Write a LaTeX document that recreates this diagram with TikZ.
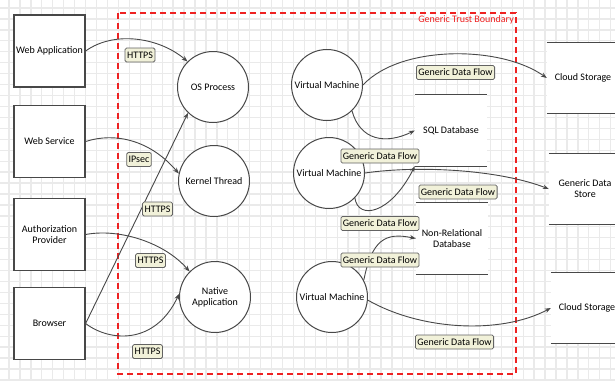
\documentclass[tikz,border=0pt]{standalone}
\usepackage{fontspec}
\setmainfont{Carlito}
\usetikzlibrary{arrows.meta}
\definecolor{gridc}{HTML}{EAEAEA}
\definecolor{lnc}{HTML}{484848}
\definecolor{lblfill}{HTML}{F1F1D9}
\definecolor{tbred}{HTML}{EE2222}
\begin{document}
\begin{tikzpicture}[x=1pt,y=-1pt,
  font=\fontsize{10}{11}\selectfont,
  extbox/.style={draw=lnc, line width=1.2pt, fill=white, minimum width=71pt, minimum height=72pt, inner sep=0pt, align=center},
  proc/.style={circle, draw=lnc, line width=1pt, fill=white, minimum size=71pt, inner sep=0pt, align=center},
  store/.style={fill=white, minimum width=72pt, minimum height=71pt, inner sep=0pt, align=center},
  storeline/.style={draw=lnc, line width=1.2pt},
  flow/.style={draw=lnc, line width=0.9pt, -{Stealth[length=6pt,width=4.5pt]}},
  lbl/.style={draw=lnc!85, fill=lblfill, line width=0.8pt, rounded corners=1.5pt, inner xsep=2pt, inner ysep=1pt, minimum height=14pt}
]
\clip (0,0) rectangle (615,381);
\fill[white] (0,0) rectangle (615,381);
% grid
\foreach \i in {0,...,56} {
  \draw[gridc, line width=1.3pt] ({9+\i*10.94},0) -- ({9+\i*10.94},381);
}
\foreach \j in {0,...,35} {
  \draw[gridc, line width=1.3pt] (0,{8+\j*10.94}) -- (615,{8+\j*10.94});
}

% trust boundary
\draw[tbred, line width=1.3pt, dash pattern=on 6pt off 4pt] (118,13) rectangle (516,374);
\node[text=tbred, anchor=east, inner sep=0pt] (tblabel) at (514,20) {Generic Trust Boundary};

% external interactors
\node[extbox] (webapp) at (49.5,51) {Web Application};
\node[extbox] (websvc) at (49.5,141.5) {Web Service};
\node[extbox] (auth) at (49.5,234.5) {Authorization\\Provider};
\node[extbox] (browser) at (49.5,323.5) {Browser};

% processes
\node[proc] (osp) at (213,87) {OS Process};
\node[proc] (kernel) at (214,181) {Kernel Thread};
\node[proc] (native) at (215,297) {Native\\Application};
\node[proc] (vm1) at (327,85) {Virtual Machine};
\node[proc] (vm2) at (329,173) {Virtual Machine};
\node[proc] (vm3) at (332,297) {Virtual Machine};

% data stores
\node[store] (sql) at (451,130.5) {SQL Database};
\node[store] (nonrel) at (452,238.5) {Non-Relational\\Database};
\node[store] (cloud1) at (583,78) {Cloud Storage};
\node[store] (gds) at (585,189) {Generic Data\\Store};
\node[store] (cloud2) at (587,308) {Cloud Storage};
\foreach \s in {sql,nonrel,cloud1,gds,cloud2} {
  \draw[storeline] (\s.north west) -- (\s.north east);
  \draw[storeline] (\s.south west) -- (\s.south east);
}

% left flows
\draw[flow] (webapp.east) .. controls (115,30) and (160,38) .. (osp.135);
\draw[flow] (websvc.east) .. controls (115,132) and (150,140) .. (kernel.168);
\draw[flow] (browser.east) -- (osp.226);
\draw[flow] (auth.east) .. controls (120,228) and (165,243) .. (native.135);
\draw[flow] (browser.east) .. controls (110,342) and (155,345) .. (native.175);

% right flows
\draw[flow] (vm1.east) .. controls (400,45) and (500,45) .. (cloud1.west);
\draw[flow] (vm1.-46) .. controls (360,140) and (385,145) .. (sql.west);
\draw[flow] (vm2.east) .. controls (420,165) and (500,170) .. (gds.west);
\draw[flow] (vm2.-44) .. controls (358,220) and (390,215) .. (sql.south west);
\draw[flow] (vm3.28) .. controls (372,240) and (385,232) .. (nonrel.west);
\draw[flow] (vm3.-5) .. controls (420,330) and (500,335) .. (cloud2.west);

% labels
\node[lbl] (l1) at (140,55) {HTTPS};
\node[lbl] (l2) at (139,159.5) {IPsec};
\node[lbl] (l3) at (157.5,209) {HTTPS};
\node[lbl] (l4) at (150.5,260.5) {HTTPS};
\node[lbl] (l5) at (147.5,351.5) {HTTPS};
\node[lbl] (g1) at (455.5,72.5) {Generic Data Flow};
\node[lbl] (g2) at (380,156) {Generic Data Flow};
\node[lbl] (g3) at (458,192) {Generic Data Flow};
\node[lbl] (g4) at (380,223.5) {Generic Data Flow};
\node[lbl] (g5) at (380,260) {Generic Data Flow};
\node[lbl] (g6) at (454.5,342) {Generic Data Flow};
\end{tikzpicture}
\end{document}
